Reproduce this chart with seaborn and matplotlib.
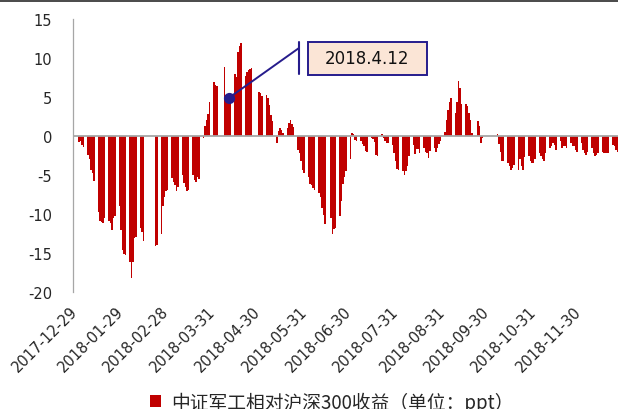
import numpy as np
import pandas as pd
import matplotlib
matplotlib.use("Agg")
import matplotlib.pyplot as plt
import matplotlib.transforms as mtransforms
from matplotlib.patches import Rectangle, Patch
from matplotlib.lines import Line2D
import seaborn as sns

# ---------------- data ----------------
base_date = "2017-12-29"
holidays = ["2018-02-15", "2018-02-16", "2018-02-19", "2018-02-20", "2018-02-21",
            "2018-04-05", "2018-04-06", "2018-04-30", "2018-05-01", "2018-06-18",
            "2018-09-24", "2018-10-01", "2018-10-02", "2018-10-03", "2018-10-04",
            "2018-10-05"]

# relative return (ppt), one value per trading day, Jan 2 .. Dec 28 2018
values_q1 = [
    -0.8, -0.7, -1.2, -1.4,
    -2.4, -3.0, -4.4, -4.7, -5.8,
    -9.7, -10.9, -11.0, -11.1, -10.5,
    -10.9, -11.2, -12.0, -10.5, -10.3,
    -9.0, -12.0, -14.6, -15.1, -15.3,
    -16.1, -18.2, -16.1, -13.1, -12.9,
    -11.8, -12.3, -13.4,
    -14.1, -14.0,
    -12.6, -9.0, -7.8, -7.0, -6.9,
    -5.4, -5.9, -6.3, -7.0, -6.6,
    -5.0, -6.0, -6.5, -7.1, -6.9,
    -5.0, -5.6, -5.9, -5.3, -5.5,
    -0.3, 1.3, 2.0, 2.8, 4.3,
]
values_q2 = [
    6.9, 6.6, 6.4,
    8.9, 5.3, 5.0, 4.9, 5.4,
    8.0, 7.6, 10.8, 11.5, 11.9,
    7.7, 8.2, 8.5, 8.6, 8.7,
    5.7, 5.5, 5.1,
    5.3, 4.9, 4.0, 2.7, 1.9,
    -0.9, 0.6, 1.0, 0.8, 0.4,
    1.0, 1.7, 2.1, 1.6, 1.1,
    -1.8, -2.2, -3.2, -4.3, -4.8,
    -5.2, -6.2, -6.3, -6.7, -6.9,
    -7.3, -7.8, -9.2, -10.1, -11.3,
    -10.5, -12.6, -11.9, -11.8,
    -10.3, -8.3, -6.2, -5.3, -4.5,
]
values_q3 = [
    -2.9, 0.4, 0.3, -0.5, -0.6,
    -0.6, -1.0, -1.3, -1.9, -2.1,
    -0.2, -0.4, -0.8, -2.4, -2.6,
    0.2, -0.3, -0.7, -0.9, -0.9,
    -1.2, -2.2, -3.2, -4.2, -4.3,
    -4.5, -5.0, -4.5, -3.8, -2.5,
    -1.2, -2.3, -1.7, -1.7, -2.2,
    -1.5, -2.0, -2.2, -2.8, -1.9,
    -1.6, -2.1, -1.5, -1.0, -0.7,
    0.5, 2.1, 3.3, 4.3, 4.9,
    3.0, 4.4, 7.0, 6.1, 4.1,
    4.1, 3.9, 3.0, 2.1, 0.4,
    1.9, 1.3, -0.9, -0.3,
]
values_q4 = [
    0.2, -1.0, -2.0, -3.2, -3.2,
    -3.5, -3.9, -4.3, -4.1, -3.7,
    -4.3, -3.0, -3.9, -4.3, -2.7,
    -2.6, -3.2, -3.5, -3.5, -3.0,
    -2.2, -2.6, -3.0, -3.2, -2.2,
    -1.5, -1.3, -0.9, -1.1, -1.8,
    -0.7, -1.5, -1.3, -1.3, -1.5,
    -0.9, -1.3, -1.3, -1.8, -2.0,
    -0.9, -1.8, -2.2, -2.4, -2.0,
    -1.5, -2.2, -2.6, -2.4, -2.2,
    -2.0, -2.2, -2.2, -2.2, -2.2,
    -1.1, -1.3, -1.8, -2.0, -2.0,
]
values = values_q1 + values_q2 + values_q3 + values_q4

tick_dates = ["2017-12-29", "2018-01-29", "2018-02-28", "2018-03-31",
              "2018-04-30", "2018-05-31", "2018-06-30", "2018-07-31",
              "2018-08-31", "2018-09-30", "2018-10-31", "2018-11-30"]
y_ticks = [-20, -15, -10, -5, 0, 5, 10, 15]
legend_label = "中证军工相对沪深300收益（单位：ppt）"
annot_date = "2018-04-12"
annot_text = "2018.4.12"

# ---------------- build frame ----------------
trade_days = pd.bdate_range("2018-01-02", "2018-12-28")
trade_days = trade_days[~trade_days.isin(pd.to_datetime(holidays))]
base = pd.Timestamp(base_date)
days = np.asarray((trade_days - base).days)
assert len(days) == len(values)
df = pd.DataFrame({"day": days, "value": values})

# ---------------- style ----------------
sns.set_theme(style="white")
plt.rcParams["font.family"] = ["DejaVu Sans", "Noto Sans CJK SC"]

BAR = "#C00000"
NAVY = "#261C8C"
GRAY = "#A6A6A6"
TXT = "#262626"

W, H = 618, 410
fig = plt.figure(figsize=(W / 100, H / 100), dpi=100)
ax = fig.add_axes([73 / W, 1 - 293 / H, 545 / W, 273 / H])

sns.barplot(data=df, x="day", y="value", native_scale=True, color=BAR,
            saturation=1, width=0.9, errorbar=None, linewidth=0, ax=ax)

ax.set_xlim(0, 545 / 1.5)
ax.set_ylim(-20, 15)
ax.set_xlabel("")
ax.set_ylabel("")

# axes lines
for s in ["top", "right", "bottom"]:
    ax.spines[s].set_visible(False)
ax.spines["left"].set_color(GRAY)
ax.spines["left"].set_linewidth(0.9)
ax.axhline(0, color=GRAY, lw=1.3, zorder=3)

# ticks
ax.set_yticks(y_ticks)
ax.set_yticklabels([str(v) for v in y_ticks])
ax.tick_params(axis="y", length=0, pad=15, labelsize=10.5, labelcolor=TXT)

tick_pos = [(pd.Timestamp(d) - base).days for d in tick_dates]
ax.set_xticks(tick_pos)
ax.set_xticklabels(tick_dates, rotation=45, ha="right", va="top",
                   rotation_mode="anchor")
ax.tick_params(axis="x", length=0, pad=8, labelsize=10.5, labelcolor=TXT)
offset = mtransforms.ScaledTranslation(-3.5 / 100, 0, fig.dpi_scale_trans)
for lab in ax.get_xticklabels():
    lab.set_transform(lab.get_transform() + offset)

# annotation
ad = (pd.Timestamp(annot_date) - base).days
av = float(df.loc[df["day"] == ad, "value"].iloc[0])
ax.scatter([ad], [av], s=65, color=NAVY, zorder=6, linewidths=0)
ax.annotate("", xy=(ad, av), xycoords="data",
            xytext=(299, H - 49), textcoords="figure pixels",
            arrowprops=dict(arrowstyle="-", color=NAVY, lw=1.4,
                            shrinkA=0, shrinkB=0), zorder=6)
fig.add_artist(Line2D([299 / W, 299 / W], [1 - 43 / H, 1 - 75 / H],
                      transform=fig.transFigure, color=NAVY, lw=1.5))
fig.add_artist(Rectangle((308 / W, 1 - 75.7 / H), 119 / W, 33 / H,
                         transform=fig.transFigure, facecolor="#FBE5D6",
                         edgecolor=NAVY, lw=1.4))
fig.text(367.5 / W, 1 - 59.5 / H, annot_text, ha="center", va="center",
         fontsize=12, color="#111111")

# top border
fig.add_artist(Rectangle((0, 1 - 3 / H), 1, 3 / H, transform=fig.transFigure,
                         facecolor="#4D4D4D", edgecolor="none"))

# legend
fig.legend(handles=[Patch(facecolor=BAR, edgecolor="none")],
           labels=[legend_label], loc="center left",
           bbox_to_anchor=(150 / W, 7 / H), frameon=False,
           handlelength=0.6, handleheight=0.6, handletextpad=0.55,
           borderpad=0, borderaxespad=0, labelcolor=TXT,
           prop={"family": ["Noto Sans CJK SC", "DejaVu Sans"], "size": 13.5})

fig.savefig("out.png", dpi=100)
